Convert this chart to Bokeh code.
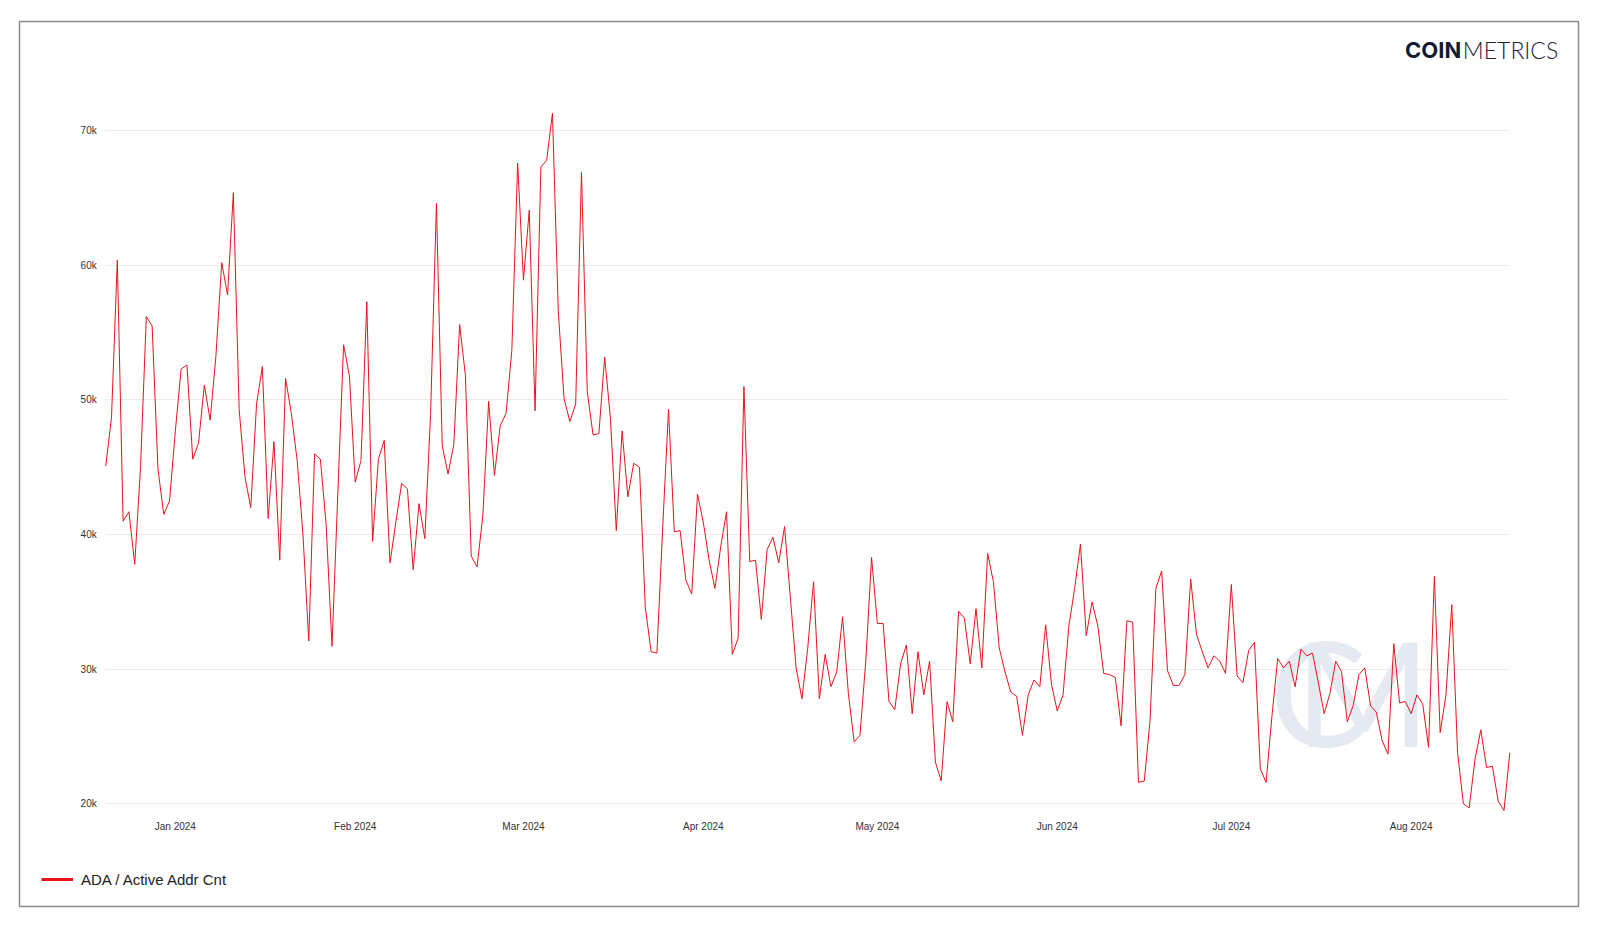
import pandas as pd
from bokeh.plotting import figure
from bokeh.models import (Range1d, FixedTicker, DatetimeTickFormatter, Legend,
                          LegendItem, Label, MonthsTicker)
from bokeh.embed import file_html
from bokeh.resources import INLINE

# ---------------- data ----------------
start_date = "2023-12-20"
series_name = "ADA / Active Addr Cnt"

# daily active address count, thousands
active_addr_k = [
    45.1, 48.7, 60.4, 41.0, 41.7, 37.8, 45.0, 56.2, 55.5, 44.9, 41.5, 42.5,
    47.7, 52.3, 52.6, 45.6, 46.8, 51.1, 48.5, 53.3, 60.2, 57.8, 65.4, 49.3,
    44.3, 42.0, 49.7, 52.5, 41.2, 46.9, 38.1, 51.6, 49.0,
    45.5, 40.0, 32.1, 46.0, 45.6, 40.7, 31.7, 43.0, 54.1, 51.8, 43.9, 45.5,
    57.3, 39.5, 45.6, 47.0, 37.9, 40.9, 43.8, 43.4, 37.4, 42.3, 39.7, 49.0,
    64.6, 46.6, 44.5, 46.7, 55.6, 51.8, 38.4, 37.6,
    41.4, 49.9, 44.4, 48.1, 49.0, 53.7, 67.6, 58.9, 64.1, 49.2, 67.3, 67.8,
    71.3, 56.6, 50.1, 48.4, 49.7, 66.9, 50.6, 47.4, 47.5, 53.2, 48.6, 40.3,
    47.7, 42.8, 45.3, 45.0, 34.6, 31.3, 31.2, 40.5, 49.3, 40.2,
    40.3, 36.6, 35.6, 43.0, 40.9, 38.1, 36.0, 39.1, 41.7, 31.1, 32.3, 51.0,
    38.0, 38.1, 33.7, 38.9, 39.8, 37.9, 40.6, 35.3, 30.1, 27.8, 31.6, 36.5,
    27.8, 31.1, 28.7, 29.8, 33.9, 28.2, 24.6, 25.1, 30.6,
    38.3, 33.4, 33.4, 27.6, 27.0, 30.4, 31.8, 26.7, 31.3, 28.1, 30.6, 23.1,
    21.7, 27.6, 26.1, 34.3, 33.8, 30.4, 34.5, 30.1, 38.6, 36.5, 31.6, 29.8,
    28.3, 28.0, 25.1, 28.1, 29.2, 28.7, 33.3, 28.9,
    26.9, 28.1, 33.2, 36.0, 39.3, 32.5, 35.0, 33.2, 29.7, 29.6, 29.4, 25.8,
    33.6, 33.5, 21.6, 21.7, 26.2, 36.0, 37.3, 29.9, 28.8, 28.8, 29.6, 36.7,
    32.6, 31.3, 30.1, 31.0, 30.6, 29.7, 36.3, 29.5, 29.0,
    31.4, 32.0, 22.6, 21.6, 26.5, 30.8, 30.1, 30.6, 28.7, 31.5, 31.0, 31.2,
    29.0, 26.7, 28.2, 30.6, 29.8, 26.1, 27.3, 29.6, 30.1, 27.3, 26.8, 24.7,
    23.7, 31.9, 27.5, 27.6, 26.7, 28.1, 27.4, 24.2, 36.9, 25.3, 28.1, 34.8,
    23.8, 20.0, 19.7, 23.3, 25.5, 22.7, 22.8, 20.2, 19.5, 23.8,
]

y_ticks = [20000, 30000, 40000, 50000, 60000, 70000]
y_tick_labels = ["20k", "30k", "40k", "50k", "60k", "70k"]

dates = pd.date_range(start_date, periods=len(active_addr_k), freq="D")
values = [v * 1000 for v in active_addr_k]

# ---------------- geometry ----------------
FIG_W, FIG_H = 1584, 912
SX, OX, OY = 0.979, 2.0, 0.5           # picture -> canvas calibration


def cx(px):
    return (px - OX) / SX


def cy(py):
    return (py - OY) / SX


def ms(ts):
    return ts.value / 1e6


# where the data sits (canvas px)
DX0, DX1 = cx(105), cx(1479.6)         # first / last date
DY70, DY20 = cy(128), cy(787)          # 70k / 20k
n_days = (dates[-1] - dates[0]).days
ppd = (DX1 - DX0) / n_days
ppu = (DY20 - DY70) / 50000.0

# frame = the bordered box
FL, FR, FT, FB = round(cx(21)), round(cx(1547)), round(cy(21)), round(cy(887))
t0 = dates[0]


def data_x(px):
    return ms(t0 + pd.Timedelta(days=(cx(px) - DX0) / ppd))


def data_y(py):
    return 70000 - (cy(py) - DY70) / ppu


x_start = t0 + pd.Timedelta(days=(FL - DX0) / ppd)
x_end = t0 + pd.Timedelta(days=(FR - DX0) / ppd)
y_top = 70000 + (DY70 - FT) / ppu
y_bot = 20000 - (FB - DY20) / ppu

LINE_RED = "#e8141c"
TICK_FONT = "Liberation Sans"

p = figure(
    width=FIG_W, height=FIG_H,
    x_axis_type="datetime",
    x_range=Range1d(x_start, x_end),
    y_range=Range1d(y_bot, y_top),
    output_backend="svg", toolbar_location=None,
    min_border_left=FL, min_border_right=FIG_W - FR,
    min_border_top=FT, min_border_bottom=FIG_H - FB,
    background_fill_color="white", border_fill_color="white",
)
p.outline_line_color = "#8a8a8a"
p.outline_line_width = 1.5

# watermark (under the data): an open "C" overlapped by an "M"
WM_COLOR = "#e5e9f2"
p.add_layout(Label(x=data_x(1244), y=data_y(676), text="C",
                   text_font="Lato", text_font_size="146px",
                   text_color=WM_COLOR, text_align="left",
                   text_baseline="alphabetic", level="underlay"))
p.add_layout(Label(x=data_x(1402), y=data_y(676), text="M",
                   text_font="Lato", text_font_size="146px",
                   text_color=WM_COLOR, text_align="right",
                   text_baseline="alphabetic", level="underlay"))

# horizontal grid lines only across the data span
try:
    p.ygrid.cross_bounds = (ms(dates[0]), ms(dates[-1]))
    use_segments = False
except Exception:
    use_segments = True
p.xgrid.grid_line_color = None
p.ygrid.ticker = FixedTicker(ticks=y_ticks)
if use_segments:
    p.ygrid.grid_line_color = None
    p.segment(x0=[dates[0]] * len(y_ticks), x1=[dates[-1]] * len(y_ticks),
              y0=y_ticks, y1=y_ticks, line_color="#ececec", line_width=1)
else:
    p.ygrid.grid_line_color = "#ececec"
    p.ygrid.grid_line_width = 1

r = p.line(dates, values, line_color=LINE_RED, line_width=1)
# one-point line: invisible on the plot, gives the thick legend swatch
swatch = p.line(x=[dates[0]], y=[values[0]], line_color=LINE_RED, line_width=3)

# axes, drawn inside the box
p.xaxis.ticker = MonthsTicker(months=list(range(12)))
fmt = "%b %Y"
p.xaxis.formatter = DatetimeTickFormatter(days=fmt, months=fmt, years=fmt)
p.yaxis.ticker = FixedTicker(ticks=y_ticks)
p.yaxis.major_label_overrides = {t: l for t, l in zip(y_ticks, y_tick_labels)}
for ax in (p.xaxis[0], p.yaxis[0]):
    ax.axis_line_color = None
    ax.major_tick_line_color = None
    ax.minor_tick_line_color = None
    ax.major_label_text_font = TICK_FONT
    ax.major_label_text_font_size = "10px"
    ax.major_label_text_color = "#333333"
p.xaxis.fixed_location = data_y(794)
p.yaxis.fixed_location = ms(dates[0])
p.xaxis.major_label_standoff = 4
p.yaxis.major_label_standoff = 3

# logo
p.add_layout(Label(x=data_x(1377), y=data_y(49), text="COIN",
                   text_font="Inter", text_font_style="bold",
                   text_font_size="22px", text_color="#151a33",
                   text_align="left", text_baseline="alphabetic"))
p.add_layout(Label(x=data_x(1527), y=data_y(49), text="METRICS",
                   text_font="Lato Light", text_font_size="23px",
                   text_color="#202437", text_align="right",
                   text_baseline="alphabetic"))

legend = Legend(items=[LegendItem(label=series_name, renderers=[swatch])],
                location=(round(cx(42)) - FL, FB - round(cy(871))),
                orientation="horizontal",
                padding=0, margin=0, spacing=0,
                glyph_width=32, glyph_height=20, label_standoff=8,
                label_text_font=TICK_FONT, label_text_font_size="15px",
                label_text_color="#222222",
                border_line_color=None, background_fill_alpha=0)
p.add_layout(legend, "center")

open("out.html", "w").write(file_html(p, INLINE))
